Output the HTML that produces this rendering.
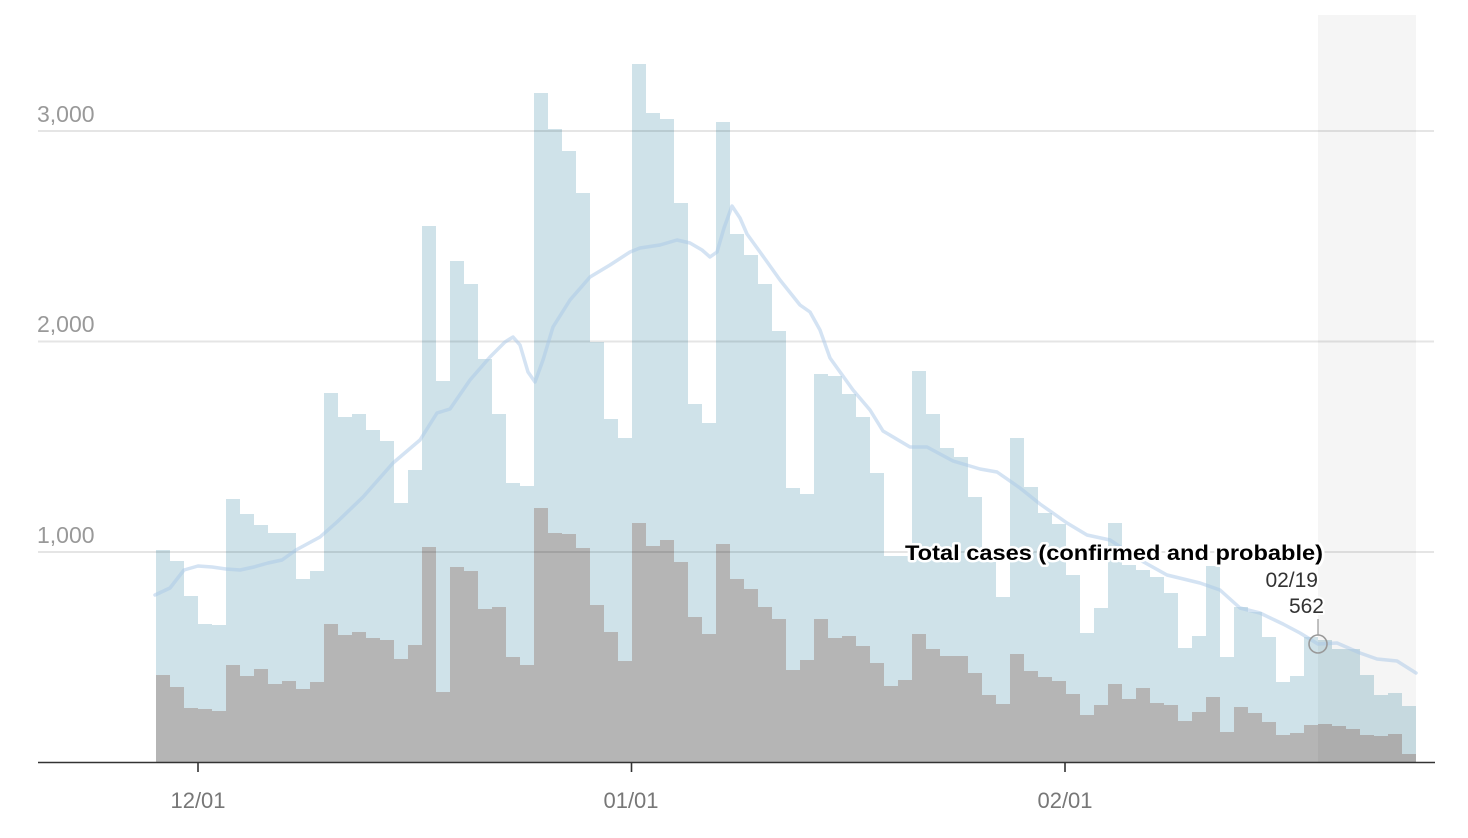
<!DOCTYPE html>
<html><head><meta charset="utf-8"><style>
html,body{margin:0;padding:0;background:#fff;}
svg{display:block;font-family:"Liberation Sans",Arial,sans-serif;}
</style></head><body>
<svg width="1468" height="838" viewBox="0 0 1468 838" xmlns="http://www.w3.org/2000/svg">
<rect width="1468" height="838" fill="#fff"/>
<path fill="#cfe2e9" d="M156 762 V550 H170 V561 H184 V596 H198 V624 H212 V625 H226 V499 H240 V514 H254 V525 H268 V533 H282 V533 H296 V579 H310 V571 H324 V393 H338 V417 H352 V414 H366 V430 H380 V441 H394 V503 H408 V470 H422 V226 H436 V381 H450 V261 H464 V284 H478 V359 H492 V414 H506 V483 H520 V486 H534 V93 H548 V129 H562 V151 H576 V193 H590 V342 H604 V419 H618 V438 H632 V64 H646 V113 H660 V119 H674 V203 H688 V404 H702 V423 H716 V122 H730 V234 H744 V255 H758 V284 H772 V331 H786 V488 H800 V494 H814 V374 H828 V376 H842 V394 H856 V417 H870 V473 H884 V556 H898 V556 H912 V371 H926 V414 H940 V448 H954 V457 H968 V497 H982 V562 H996 V597 H1010 V438 H1024 V487 H1038 V513 H1052 V524 H1066 V575 H1080 V633 H1094 V608 H1108 V523 H1122 V565 H1136 V570 H1150 V577 H1164 V593 H1178 V648 H1192 V636 H1206 V566 H1220 V657 H1234 V607 H1248 V612 H1262 V637 H1276 V682 H1290 V676 H1304 V637 H1318 V640 H1332 V649 H1346 V649 H1360 V675 H1374 V695 H1388 V693 H1402 V706 H1416 V762 Z"/>
<path fill="#b5b5b5" d="M156 762 V675 H170 V687 H184 V708 H198 V709 H212 V711 H226 V665 H240 V676 H254 V669 H268 V684 H282 V681 H296 V689 H310 V682 H324 V624 H338 V635 H352 V632 H366 V638 H380 V640 H394 V659 H408 V645 H422 V547 H436 V692 H450 V567 H464 V571 H478 V609 H492 V607 H506 V657 H520 V665 H534 V508 H548 V533 H562 V534 H576 V548 H590 V605 H604 V632 H618 V661 H632 V523 H646 V546 H660 V540 H674 V562 H688 V617 H702 V634 H716 V544 H730 V579 H744 V589 H758 V607 H772 V619 H786 V670 H800 V660 H814 V619 H828 V638 H842 V636 H856 V646 H870 V663 H884 V686 H898 V680 H912 V634 H926 V649 H940 V656 H954 V656 H968 V673 H982 V695 H996 V704 H1010 V654 H1024 V671 H1038 V677 H1052 V681 H1066 V694 H1080 V715 H1094 V705 H1108 V684 H1122 V699 H1136 V688 H1150 V703 H1164 V705 H1178 V721 H1192 V712 H1206 V697 H1220 V732 H1234 V707 H1248 V713 H1262 V722 H1276 V735 H1290 V733 H1304 V725 H1318 V724 H1332 V726 H1346 V729 H1360 V735 H1374 V736 H1388 V734 H1402 V754 H1416 V762 Z"/>
<rect x="1318" y="15" width="98" height="747" fill="rgba(0,0,0,0.04)"/>
<g stroke="rgba(0,0,0,0.1)" stroke-width="2">
<line x1="38" y1="131" x2="1434" y2="131"/>
<line x1="38" y1="341.5" x2="1434" y2="341.5"/>
<line x1="38" y1="552" x2="1434" y2="552"/>
</g>
<polyline fill="none" stroke="#a9c7e8" stroke-opacity="0.5" stroke-width="3.5" stroke-linejoin="round" stroke-linecap="round" points="155,595 170,588 184,570 198,566 212,567 226,569 240,570 254,567 268,563 282,560 296,550 320,537 337,522 363,497 393,463 420,440 437,413 450,409 470,380 490,357 505,342 513,337 520,345 528,372 535,382 543,360 553,327 570,300 590,277 610,265 630,252 640,248 660,245 677,240 690,243 702,250 710,257 717,252 724,228 732,206 740,218 747,234 760,252 780,280 800,305 810,312 820,330 830,358 853,390 870,410 883,431 910,447 927,447 953,461 980,469 997,472 1020,488 1040,504 1067,523 1087,535 1110,540 1140,560 1167,575 1200,583 1220,590 1240,608 1260,613 1283,624 1300,633 1318,644 1337,643 1360,653 1377,659 1397,661 1416,673"/>
<g fill="#999" font-size="23">
<text x="37" y="122">3,000</text>
<text x="37" y="332">2,000</text>
<text x="37" y="543">1,000</text>
</g>
<line x1="38" y1="762.5" x2="1435" y2="762.5" stroke="#333" stroke-width="1.6"/>
<g stroke="#333" stroke-width="1.6">
<line x1="198" y1="763" x2="198" y2="772"/>
<line x1="631.5" y1="763" x2="631.5" y2="772"/>
<line x1="1065" y1="763" x2="1065" y2="772"/>
</g>
<g fill="#777" font-size="22" text-anchor="middle">
<text x="198" y="808">12/01</text>
<text x="631" y="808">01/01</text>
<text x="1065" y="808">02/01</text>
</g>
<text x="1323" y="560" text-anchor="end" font-size="21" font-weight="bold" textLength="418" lengthAdjust="spacingAndGlyphs" stroke="#fff" stroke-width="5" stroke-linejoin="round" fill="#fff">Total cases (confirmed and probable)</text>
<text x="1323" y="560" text-anchor="end" font-size="21" font-weight="bold" textLength="418" lengthAdjust="spacingAndGlyphs" fill="#000">Total cases (confirmed and probable)</text>
<g font-size="21" text-anchor="end" stroke="#fff" stroke-width="4" stroke-linejoin="round" fill="#fff">
<text x="1318" y="587">02/19</text>
<text x="1324" y="613">562</text>
</g>
<g font-size="21" text-anchor="end" fill="#333">
<text x="1318" y="587">02/19</text>
<text x="1324" y="613">562</text>
</g>
<line x1="1318" y1="619" x2="1318" y2="635" stroke="#999" stroke-width="1.2"/>
<circle cx="1318" cy="644" r="9" fill="none" stroke="#999" stroke-width="1.6"/>
</svg>
</body></html>
